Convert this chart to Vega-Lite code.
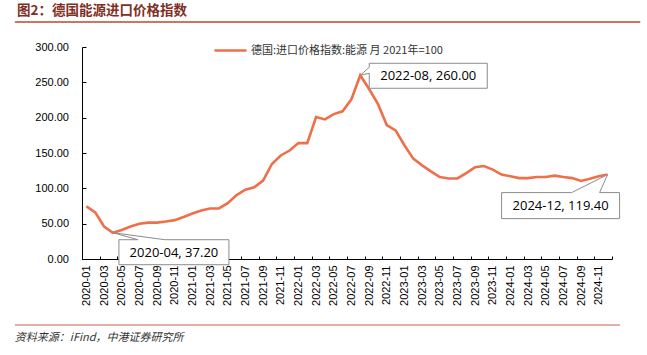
{
  "$schema": "https://vega.github.io/schema/vega-lite/v6.json",
  "autosize": {"type": "none"},
  "width": 530,
  "height": 212,
  "padding": {"left": 82, "top": 47, "right": 35, "bottom": 96},
  "background": "white",
  "config": {"view": {"stroke": null}, "axis": {"labelOverlap": false}},
  "title": {
    "text": "图2：德国能源进口价格指数",
    "anchor": "start",
    "frame": "group",
    "dx": -65,
    "font": "Noto Sans CJK SC",
    "fontSize": 13.5,
    "fontWeight": "bold",
    "color": "#7F2F25",
    "offset": 4
  },
  "datasets": {
    "series": [
      {"idx": 0, "month": "2020-01", "value": 74.5},
      {"idx": 1, "month": "2020-02", "value": 66},
      {"idx": 2, "month": "2020-03", "value": 46},
      {"idx": 3, "month": "2020-04", "value": 37.2},
      {"idx": 4, "month": "2020-05", "value": 41},
      {"idx": 5, "month": "2020-06", "value": 46},
      {"idx": 6, "month": "2020-07", "value": 50},
      {"idx": 7, "month": "2020-08", "value": 51.5},
      {"idx": 8, "month": "2020-09", "value": 51.5},
      {"idx": 9, "month": "2020-10", "value": 53},
      {"idx": 10, "month": "2020-11", "value": 55},
      {"idx": 11, "month": "2020-12", "value": 59.5},
      {"idx": 12, "month": "2021-01", "value": 64.5},
      {"idx": 13, "month": "2021-02", "value": 68.5},
      {"idx": 14, "month": "2021-03", "value": 71.5},
      {"idx": 15, "month": "2021-04", "value": 71.5},
      {"idx": 16, "month": "2021-05", "value": 79},
      {"idx": 17, "month": "2021-06", "value": 90.5},
      {"idx": 18, "month": "2021-07", "value": 98},
      {"idx": 19, "month": "2021-08", "value": 101.5},
      {"idx": 20, "month": "2021-09", "value": 111},
      {"idx": 21, "month": "2021-10", "value": 134.5},
      {"idx": 22, "month": "2021-11", "value": 146.5},
      {"idx": 23, "month": "2021-12", "value": 153.5},
      {"idx": 24, "month": "2022-01", "value": 164},
      {"idx": 25, "month": "2022-02", "value": 164},
      {"idx": 26, "month": "2022-03", "value": 201},
      {"idx": 27, "month": "2022-04", "value": 197.5},
      {"idx": 28, "month": "2022-05", "value": 205},
      {"idx": 29, "month": "2022-06", "value": 209},
      {"idx": 30, "month": "2022-07", "value": 226},
      {"idx": 31, "month": "2022-08", "value": 260},
      {"idx": 32, "month": "2022-09", "value": 240.5},
      {"idx": 33, "month": "2022-10", "value": 219.5},
      {"idx": 34, "month": "2022-11", "value": 189.5},
      {"idx": 35, "month": "2022-12", "value": 182},
      {"idx": 36, "month": "2023-01", "value": 161},
      {"idx": 37, "month": "2023-02", "value": 142},
      {"idx": 38, "month": "2023-03", "value": 132.5},
      {"idx": 39, "month": "2023-04", "value": 124},
      {"idx": 40, "month": "2023-05", "value": 116},
      {"idx": 41, "month": "2023-06", "value": 114},
      {"idx": 42, "month": "2023-07", "value": 114},
      {"idx": 43, "month": "2023-08", "value": 121.5},
      {"idx": 44, "month": "2023-09", "value": 130},
      {"idx": 45, "month": "2023-10", "value": 131.5},
      {"idx": 46, "month": "2023-11", "value": 126.5},
      {"idx": 47, "month": "2023-12", "value": 119.5},
      {"idx": 48, "month": "2024-01", "value": 117},
      {"idx": 49, "month": "2024-02", "value": 114.5},
      {"idx": 50, "month": "2024-03", "value": 114.5},
      {"idx": 51, "month": "2024-04", "value": 116},
      {"idx": 52, "month": "2024-05", "value": 116},
      {"idx": 53, "month": "2024-06", "value": 118},
      {"idx": 54, "month": "2024-07", "value": 116},
      {"idx": 55, "month": "2024-08", "value": 114.5},
      {"idx": 56, "month": "2024-09", "value": 110.5},
      {"idx": 57, "month": "2024-10", "value": 113.5},
      {"idx": 58, "month": "2024-11", "value": 117},
      {"idx": 59, "month": "2024-12", "value": 119.4}
    ],
    "notes": [
      {"idx": 3, "value": 37.2, "label": "2020-04, 37.20"},
      {"idx": 31, "value": 260, "label": "2022-08, 260.00"},
      {"idx": 59, "value": 119.4, "label": "2024-12, 119.40"}
    ],
    "one": [{"source": "资料来源：iFind，中港证券研究所"}]
  },
  "layer": [
    {
      "data": {"name": "series"},
      "mark": {"type": "line", "strokeWidth": 2.6, "interpolate": "linear"},
      "encoding": {
        "x": {
          "field": "idx",
          "type": "quantitative",
          "scale": {"domain": [-0.5, 59.5], "nice": false, "zero": false},
          "axis": {
            "title": null,
            "grid": false,
            "tickCount": 200,
            "values": [-0.5, 1.5, 3.5, 5.5, 7.5, 9.5, 11.5, 13.5, 15.5, 17.5, 19.5, 21.5, 23.5, 25.5, 27.5, 29.5, 31.5, 33.5, 35.5, 37.5, 39.5, 41.5, 43.5, 45.5, 47.5, 49.5, 51.5, 53.5, 55.5, 57.5, 59.5],
            "labelExpr": "datum.value > 59 ? '' : (2020 + floor((datum.value + 0.5) / 12)) + '-' + (((datum.value + 0.5) % 12) < 9 ? '0' : '') + (((datum.value + 0.5) % 12) + 1)",
            "labelAngle": 270,
            "labelOffset": 4.4,
            "labelPadding": 9,
            "labelFont": "Liberation Sans",
            "labelFontSize": 11,
            "labelColor": "#000000",
            "labelOverlap": false,
            "labelBound": false,
            "labelFlush": false,
            "domainColor": "#000000",
            "tickColor": "#000000",
            "tickSize": -3
          }
        },
        "y": {
          "field": "value",
          "type": "quantitative",
          "scale": {"domain": [0, 300], "nice": false},
          "axis": {
            "title": null,
            "grid": false,
            "tickCount": 200,
            "values": [0, 50, 100, 150, 200, 250, 300],
            "format": ".2f",
            "labelFont": "Liberation Sans",
            "labelFontSize": 11,
            "labelColor": "#000000",
            "labelPadding": 17.5,
            "labelOverlap": false,
            "domainColor": "#000000",
            "tickColor": "#000000",
            "tickSize": -4
          }
        },
        "color": {
          "datum": "德国:进口价格指数:能源 月 2021年=100",
          "type": "nominal",
          "scale": {"range": ["#EE6F4A"]},
          "legend": {
            "title": null,
            "orient": "none",
            "legendX": 131,
            "legendY": -14,
            "symbolType": "stroke",
            "symbolSize": 1024,
            "symbolStrokeWidth": 2.6,
            "labelFont": "Noto Sans CJK SC",
            "labelFontSize": 11,
            "labelColor": "#333333",
            "labelLimit": 400,
            "labelOffset": 3
          }
        }
      }
    },
    {
      "data": {"name": "notes"},
      "transform": [{"filter": "datum.idx == 3"}],
      "mark": {"type": "point", "filled": true, "fill": "white", "stroke": "#8C8C8C", "strokeWidth": 1, "opacity": 1, "size": 10000,
        "shape": "M0.12,0.14 L0.5,0.14 L0,0 L1.04,0.14 L2.32,0.14 L2.32,0.64 L0.12,0.64 Z"},
      "encoding": {"x": {"field": "idx", "type": "quantitative"}, "y": {"field": "value", "type": "quantitative"}}
    },
    {
      "data": {"name": "notes"},
      "transform": [{"filter": "datum.idx == 31"}],
      "mark": {"type": "point", "filled": true, "fill": "white", "stroke": "#8C8C8C", "strokeWidth": 1, "opacity": 1, "size": 10000,
        "shape": "M0.18,-0.24 L2.54,-0.24 L2.54,0.26 L0.18,0.26 L0.18,-0.04 L0,0 L0.18,-0.16 Z"},
      "encoding": {"x": {"field": "idx", "type": "quantitative"}, "y": {"field": "value", "type": "quantitative"}}
    },
    {
      "data": {"name": "notes"},
      "transform": [{"filter": "datum.idx == 59"}],
      "mark": {"type": "point", "filled": true, "fill": "white", "stroke": "#8C8C8C", "strokeWidth": 1, "opacity": 1, "size": 10000,
        "shape": "M-2.12,0.36 L-0.72,0.36 L0,0 L-0.16,0.36 L0.24,0.36 L0.24,0.88 L-2.12,0.88 Z"},
      "encoding": {"x": {"field": "idx", "type": "quantitative"}, "y": {"field": "value", "type": "quantitative"}}
    },
    {
      "data": {"name": "notes"},
      "transform": [{"filter": "datum.idx == 3"}],
      "mark": {"type": "text", "font": "Open Sans", "fontSize": 13, "color": "#000000", "align": "center", "baseline": "middle", "dx": 61, "dy": 20},
      "encoding": {"x": {"field": "idx", "type": "quantitative"}, "y": {"field": "value", "type": "quantitative"}, "text": {"field": "label"}}
    },
    {
      "data": {"name": "notes"},
      "transform": [{"filter": "datum.idx == 31"}],
      "mark": {"type": "text", "font": "Open Sans", "fontSize": 13, "color": "#000000", "align": "center", "baseline": "middle", "dx": 68, "dy": 0.5},
      "encoding": {"x": {"field": "idx", "type": "quantitative"}, "y": {"field": "value", "type": "quantitative"}, "text": {"field": "label"}}
    },
    {
      "data": {"name": "notes"},
      "transform": [{"filter": "datum.idx == 59"}],
      "mark": {"type": "text", "font": "Open Sans", "fontSize": 13, "color": "#000000", "align": "center", "baseline": "middle", "dx": -47, "dy": 31},
      "encoding": {"x": {"field": "idx", "type": "quantitative"}, "y": {"field": "value", "type": "quantitative"}, "text": {"field": "label"}}
    },
    {
      "data": {"name": "one"},
      "mark": {"type": "rule", "stroke": "#C0462E", "strokeWidth": 1.5},
      "encoding": {
        "x": {"datum": -8.1, "type": "quantitative"},
        "x2": {"datum": 62.7},
        "y": {"datum": 335.4, "type": "quantitative"}
      }
    },
    {
      "data": {"name": "one"},
      "mark": {"type": "rule", "stroke": "#D99489", "strokeWidth": 1.5},
      "encoding": {
        "x": {"datum": -8.1, "type": "quantitative"},
        "x2": {"datum": 60.4},
        "y": {"datum": -93.4, "type": "quantitative"}
      }
    },
    {
      "data": {"name": "one"},
      "mark": {"type": "text", "font": "Noto Sans CJK SC", "fontSize": 11, "fontStyle": "italic", "color": "#333333", "align": "left", "baseline": "middle"},
      "encoding": {
        "x": {"datum": -8.1, "type": "quantitative"},
        "y": {"datum": -111.6, "type": "quantitative"},
        "text": {"field": "source"}
      }
    }
  ]
}
